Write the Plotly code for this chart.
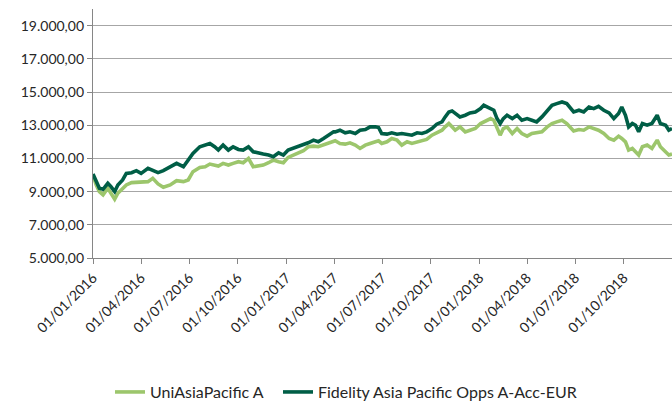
import plotly.graph_objects as go

dates = [
    "2016-01-01", "2016-01-07", "2016-01-13", "2016-01-20", "2016-01-29", "2016-02-04",
    "2016-02-11", "2016-02-17", "2016-02-26", "2016-03-04", "2016-03-14", "2016-03-23",
    "2016-04-01", "2016-04-14", "2016-04-23", "2016-05-03", "2016-05-13", "2016-05-26",
    "2016-06-07", "2016-06-20", "2016-06-29", "2016-07-08", "2016-07-21", "2016-07-31",
    "2016-08-09",
    "2016-08-18", "2016-08-25", "2016-09-03", "2016-09-13", "2016-09-22", "2016-10-02",
    "2016-10-11", "2016-10-21", "2016-10-30", "2016-11-09", "2016-11-18", "2016-11-28",
    "2016-12-07", "2016-12-17", "2016-12-26", "2017-01-04", "2017-01-13", "2017-01-23",
    "2017-02-02", "2017-02-11", "2017-02-21", "2017-03-02", "2017-03-12", "2017-03-21",
    "2017-03-31",
    "2017-04-03", "2017-04-12", "2017-04-22", "2017-05-01", "2017-05-11", "2017-05-20",
    "2017-05-30", "2017-06-08", "2017-06-18", "2017-06-24", "2017-06-30", "2017-07-10",
    "2017-07-19", "2017-07-29", "2017-08-07", "2017-08-17", "2017-08-26", "2017-09-05",
    "2017-09-14", "2017-09-23", "2017-10-03", "2017-10-12", "2017-10-22", "2017-10-28",
    "2017-11-04", "2017-11-10",
    "2017-11-16", "2017-11-25", "2017-12-05", "2017-12-14", "2017-12-24", "2018-01-03",
    "2018-01-09", "2018-01-15", "2018-01-22", "2018-01-28", "2018-02-03", "2018-02-09",
    "2018-02-15", "2018-02-22", "2018-03-04", "2018-03-13", "2018-03-22", "2018-04-01",
    "2018-04-10", "2018-04-19", "2018-04-29", "2018-05-09", "2018-05-18", "2018-05-27",
    "2018-06-06", "2018-06-15",
    "2018-06-28", "2018-07-08", "2018-07-17", "2018-07-27", "2018-08-05", "2018-08-14",
    "2018-08-24", "2018-09-03", "2018-09-12", "2018-09-21", "2018-09-27", "2018-10-04",
    "2018-10-10", "2018-10-17", "2018-10-23", "2018-10-29", "2018-11-05", "2018-11-14",
    "2018-11-23", "2018-12-03", "2018-12-09", "2018-12-19", "2018-12-25", "2018-12-31",
]

uni_asia_pacific = [
    10000, 9400, 9000, 8800, 9200, 8900,
    8540, 8900, 9200, 9400, 9540, 9560,
    9550, 9600, 9800, 9460, 9260, 9400,
    9660, 9600, 9700, 10200, 10450, 10500,
    10660,
    10600, 10540, 10700, 10600, 10700, 10800,
    10740, 11000, 10500, 10540, 10600, 10740,
    10900, 10800, 10740, 11060, 11200, 11300,
    11460, 11700, 11740, 11700, 11800, 11900,
    12000,
    12060, 11900, 11860, 11940, 11800, 11600,
    11800, 11900, 12000, 12060, 11900, 12000,
    12200, 12100, 11800, 12000, 11900, 12000,
    12100, 12140, 12400, 12540, 12700, 12900,
    13100, 12900,
    12700, 12900, 12600, 12700, 12800, 13100,
    13200, 13300, 13400, 13300, 12800, 12400,
    12800, 12900, 12500, 12800, 12500, 12340,
    12500, 12540, 12600, 12900, 13100, 13200,
    13300, 13100,
    12650, 12740, 12700, 12900, 12800, 12700,
    12500, 12200, 12100, 12340, 12200, 12000,
    11500, 11600, 11400, 11200, 11700, 11800,
    11600, 12100, 11700, 11400, 11200, 11260,
]

fidelity_asia_pacific = [
    10060, 9600, 9200, 9140, 9500, 9300,
    9000, 9400, 9700, 10100, 10140, 10260,
    10100, 10400, 10260, 10140, 10260, 10460,
    10700, 10500, 10940, 11300, 11700, 11800,
    11900,
    11700, 11500, 11800, 11500, 11700, 11540,
    11500, 11700, 11400, 11300, 11260, 11200,
    11100, 11340, 11200, 11500, 11600, 11700,
    11800, 11940, 12100, 12000, 12200, 12400,
    12600,
    12600, 12700, 12540, 12600, 12500, 12700,
    12740, 12900, 12900, 12860, 12500, 12460,
    12540, 12460, 12500, 12460, 12400, 12540,
    12500, 12600, 12800, 13060, 13200, 13500,
    13800, 13860,
    13700, 13500, 13600, 13740, 13800, 14000,
    14200, 14100, 14000, 13900, 13400, 13100,
    13400, 13600, 13400, 13600, 13300, 13400,
    13300, 13200, 13500, 13900, 14200, 14300,
    14400, 14300,
    13800, 13900, 13800, 14100, 14000, 14140,
    13900, 13740, 13400, 13700, 14100, 13600,
    12900, 13100, 13000, 12600, 13100, 13000,
    13100, 13600, 13100, 13000, 12700, 12800,
]

series_names = ["UniAsiaPacific A", "Fidelity Asia Pacific Opps A-Acc-EUR"]
series_colors = ["#9CC66C", "#005E46"]
legend_ids = ["legend", "legend2"]

fig = go.Figure()
for name, vals, col, lg in zip(series_names, [uni_asia_pacific, fidelity_asia_pacific],
                               series_colors, legend_ids):
    fig.add_trace(go.Scatter(x=dates, y=vals, mode="lines", name=name, legend=lg,
                             line=dict(color=col, width=3.6)))

font_family = "Lato, 'Open Sans', sans-serif"
legend_style = dict(orientation="h", xref="container", yref="container",
                    y=0.032, xanchor="left", yanchor="middle",
                    font=dict(size=16, color="#262626"), itemwidth=30,
                    bgcolor="rgba(0,0,0,0)")

fig.update_layout(
    width=672, height=405,
    margin=dict(l=93, r=0, t=9, b=147, autoexpand=False),
    paper_bgcolor="white", plot_bgcolor="white",
    separators=",.",
    font=dict(family=font_family, size=14, color="#262626"),
    showlegend=True,
    legend=dict(x=110 / 672, **legend_style),
    legend2=dict(x=278 / 672, **legend_style),
)

fig.update_xaxes(
    type="date",
    range=["2016-01-01", "2018-12-31"],
    tick0="2016-01-01", dtick="M3",
    tickformat="%d/%m/%Y",
    tickangle=-45,
    ticks="outside", ticklen=5, tickcolor="#868686",
    showline=True, linecolor="#868686", linewidth=1.3,
    showgrid=False, zeroline=False, automargin=False,
    tickfont=dict(size=14, color="#262626"),
)

fig.update_yaxes(
    range=[5000, 20000],
    tick0=5000, dtick=2000,
    tickformat=",.2f",
    ticks="outside", ticklen=5, tickcolor="#868686",
    showline=True, linecolor="#868686", linewidth=1.3,
    showgrid=True, gridcolor="#A6A6A6", gridwidth=1,
    zeroline=False, automargin=False,
    tickfont=dict(size=14, color="#262626"),
)

fig.write_html("out.html", config={"displayModeBar": False},
               post_script="document.body.style.margin='0';")
